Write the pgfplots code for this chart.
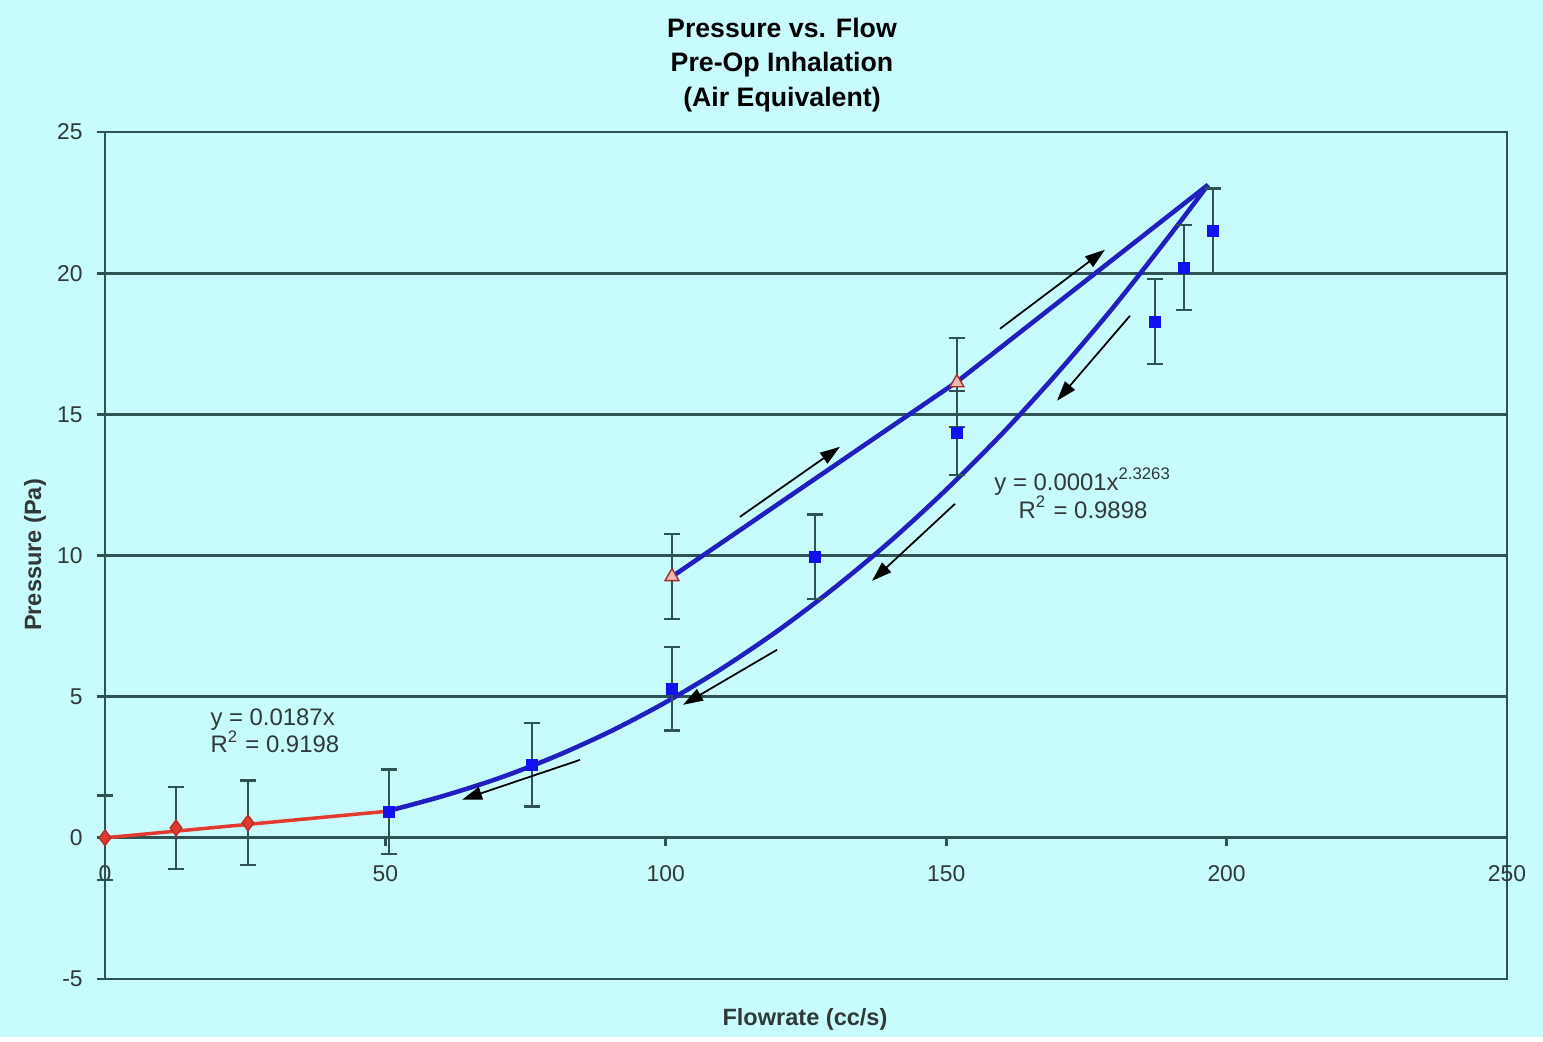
\documentclass[border=0pt]{standalone}
\usepackage{pgfplots}
\pgfplotsset{compat=1.18}
\usepackage{fontspec}
\setmainfont{Liberation Sans}
\usetikzlibrary{arrows.meta}
\definecolor{bg}{HTML}{C8FCFC}
\definecolor{gridc}{HTML}{2F5252}
\definecolor{txt}{HTML}{303838}
\definecolor{curveblue}{HTML}{2020C0}
\definecolor{linered}{HTML}{E23A2E}
\definecolor{sqblue}{HTML}{1010F0}
\definecolor{tripink}{HTML}{F0B8B0}
\definecolor{tridark}{HTML}{A03030}
\begin{document}
\begin{tikzpicture}
\fill[bg] (0,0) rectangle (15.43cm,10.37cm);
\node[align=center, font=\bfseries\fontsize{7.6}{9.9}\selectfont, text=black] at (7.82cm,9.72cm) {Pressure vs. Flow\\Pre-Op Inhalation\\(Air Equivalent)};
\node[rotate=90, font=\bfseries\fontsize{6.7}{8}\selectfont, text=txt] at (0.35cm,4.82cm) {Pressure (Pa)};
\node[font=\bfseries\fontsize{6.7}{8}\selectfont, text=txt] at (8.05cm,0.18cm) {Flowrate (cc/s)};
\begin{axis}[
  at={(1.05cm,0.58cm)}, anchor=south west,
  width=14.02cm, height=8.47cm, scale only axis,
  xmin=0, xmax=250, ymin=-5, ymax=25,
  xtick={0,50,...,250}, ytick={-5,0,...,25},
  ytick pos=left,
  axis line style={gridc, line width=0.8pt},
  ymajorgrids, grid style={gridc, line width=0.8pt},
  tick align=outside,
  major tick length=0.08cm,
  ytick style={gridc, line width=0.8pt},
  xtick style={draw=none},
  ticklabel style={font=\fontsize{6.5}{8}\selectfont, text=txt},
  /pgf/number format/assume math mode=true,
  xticklabel style={yshift=1.34cm},
  yticklabel style={xshift=-0.02cm},
  axis background/.style={fill=bg},
  clip=false,
]
\pgfplotsinvokeforeach{0,50,100,150,200,250}{\draw[gridc, line width=0.8pt] (axis cs:#1,0) -- (axis cs:#1,-0.3);}
% red linear trendline
\addplot[linered, line width=1pt] coordinates {(0,0) (50.6,0.946)};
% power trendline
\addplot[curveblue, line width=1.3pt, smooth] coordinates {
(50.6,0.958) (60,1.464) (70,2.095) (80,2.859) (90,3.758) (100,4.803) (110,5.996)
(120,7.340) (130,8.843) (140,10.50) (150,12.33) (160,14.32) (170,16.50)
(180,18.84) (190,21.37) (196.7,23.13)};
% upper line
\addplot[curveblue, line width=1.3pt] coordinates {(101.1,9.25) (151.9,16.15) (196.7,23.13)};
% red diamonds
\addplot[only marks, mark=diamond*, mark size=2.2pt, mark options={fill=linered, draw=linered!80!black},
  error bars/.cd, y dir=both, y explicit,
  error bar style={gridc, line width=0.6pt},
  error mark options={gridc, mark size=2.3pt, line width=0.6pt, rotate=90}]
coordinates {(0,0) +- (0,1.5) (12.66,0.35) +- (0,1.45) (25.5,0.53) +- (0,1.5)};
% blue squares
\addplot[only marks, mark=square*, mark size=1.5pt, mark options={fill=sqblue, draw=sqblue},
  error bars/.cd, y dir=both, y explicit,
  error bar style={gridc, line width=0.6pt},
  error mark options={gridc, mark size=2.3pt, line width=0.6pt, rotate=90}]
coordinates {(50.6,0.92) +- (0,1.5) (76.1,2.59) +- (0,1.48) (101.1,5.28) +- (0,1.48)
 (126.6,9.95) +- (0,1.5) (151.9,14.35) +- (0,1.49) (187.2,18.28) +- (0,1.5)
 (192.4,20.19) +- (0,1.5) (197.6,21.5) +- (0,1.5)};
% triangles
\addplot[only marks, mark=triangle*, mark size=2.3pt, mark options={fill=tripink, draw=tridark},
  error bars/.cd, y dir=both, y explicit,
  error bar style={gridc, line width=0.6pt},
  error mark options={gridc, mark size=2.3pt, line width=0.6pt, rotate=90}]
coordinates {(101.1,9.25) +- (0,1.5) (151.9,16.12) +- (0,1.58)};
% arrows
\tikzset{arr/.style={-{Triangle[length=0.2cm,width=0.13cm]}, black, line width=0.5pt}}
\draw[arr] (axis cs:113.23,11.37) -- (axis cs:131.06,13.85);
\draw[arr] (axis cs:159.59,18.03) -- (axis cs:178.32,20.83);
\draw[arr] (axis cs:182.77,18.49) -- (axis cs:169.76,15.48);
\draw[arr] (axis cs:151.57,11.83) -- (axis cs:136.77,9.10);
\draw[arr] (axis cs:119.83,6.66) -- (axis cs:103.07,4.71);
\draw[arr] (axis cs:84.70,2.76) -- (axis cs:63.66,1.35);
% equations
\node[align=center, font=\fontsize{6.8}{7.9}\selectfont, text=txt] at (axis cs:174.4,12.2) {y = 0.0001x\textsuperscript{2.3263}\\R\textsuperscript{2} = 0.9898};
\node[align=left, anchor=west, font=\fontsize{6.8}{7.9}\selectfont, text=txt] at (axis cs:16.6,3.79) {y = 0.0187x\\R\textsuperscript{2} = 0.9198};
\end{axis}
\end{tikzpicture}
\end{document}
